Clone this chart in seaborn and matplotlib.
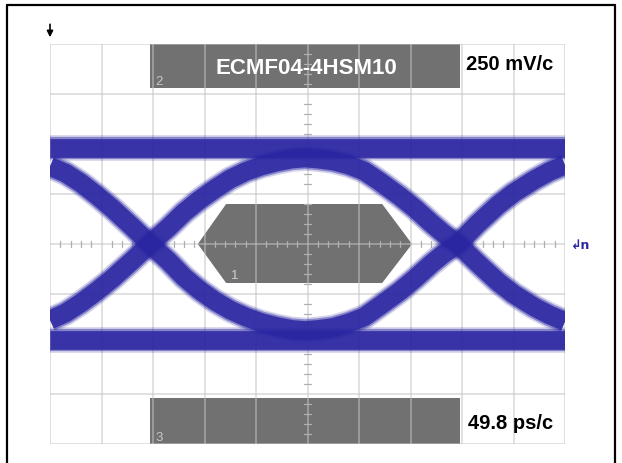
import matplotlib
matplotlib.use("Agg")
import matplotlib.pyplot as plt
from matplotlib.lines import Line2D
from matplotlib.patches import Polygon, Rectangle
import pandas as pd
import seaborn as sns

# ---- data (divisions: x = 49.8 ps/div, y = 250 mV/div) ----
time_div = [0.0, 0.3, 0.6, 0.9, 1.2, 1.6, 1.94, 2.3, 2.6, 2.9, 3.2, 3.5, 3.8, 4.1,
            4.4, 4.7, 4.95, 5.2, 5.5, 5.8, 6.1, 6.4, 6.8, 7.1, 7.4, 7.65, 7.92,
            8.3, 8.7, 9.0, 9.4, 9.7, 10.0]
# trace rising at first crossing, falling at second
arch_up = [-1.52, -1.38, -1.18, -0.95, -0.70, -0.33, 0.0, 0.33, 0.63, 0.88, 1.10, 1.30,
           1.45, 1.56, 1.64, 1.70, 1.72, 1.70, 1.66, 1.58, 1.46, 1.25, 0.95, 0.70,
           0.42, 0.20, 0.0, -0.38, -0.76, -1.00, -1.26, -1.42, -1.55]
# trace falling at first crossing, rising at second
arch_down = [1.55, 1.42, 1.22, 0.98, 0.72, 0.34, 0.0, -0.34, -0.66, -0.92, -1.14, -1.32,
             -1.46, -1.57, -1.65, -1.71, -1.73, -1.71, -1.67, -1.58, -1.46, -1.24, -0.94,
             -0.68, -0.40, -0.19, 0.0, 0.40, 0.78, 1.02, 1.28, 1.45, 1.58]
level_time = [0.0, 10.0]
level_high = [1.92, 1.92]
level_low = [-1.92, -1.92]

mask_x = [2.87, 3.42, 6.45, 7.03, 6.45, 3.42]
mask_y = [0.0, 0.80, 0.80, 0.0, -0.78, -0.78]

title_text = "ECMF04-4HSM10"
volt_scale = "250 mV/c"
time_scale = "49.8 ps/c"

# ---- build long table ----
rows = []
for name, xs, ys in [("up", time_div, arch_up), ("down", time_div, arch_down),
                     ("high", level_time, level_high), ("low", level_time, level_low)]:
    for i, (x, y) in enumerate(zip(xs, ys)):
        rows.append({"trace": name, "t": x, "v": y, "order": i})
df = pd.DataFrame(rows)

sns.set_style("white")
plt.rcParams['font.family'] = ['Liberation Sans', 'DejaVu Sans']

W, H = 622, 464
fig = plt.figure(figsize=(W / 100, H / 100), dpi=100)
fig.patch.set_facecolor("white")
ax = fig.add_axes([50 / W, 19 / H, 515 / W, 400 / H])
ax.set_xlim(0, 10)
ax.set_ylim(-4, 4)
for s in ax.spines.values():
    s.set_visible(False)
ax.set_xticks([])
ax.set_yticks([])

box_gray = "#717171"
ax.add_patch(Rectangle((1.95, 3.12), 7.96 - 1.95, 0.88, facecolor=box_gray, edgecolor="none", zorder=1))
ax.add_patch(Rectangle((1.95, -4.0), 7.96 - 1.95, 0.92, facecolor=box_gray, edgecolor="none", zorder=1))
ax.add_patch(Polygon(list(zip(mask_x, mask_y)), closed=True, facecolor=box_gray, edgecolor="none", zorder=1))

# grid
for gx in range(0, 11):
    ax.axvline(gx, color="#c4c4c4", lw=1.1, alpha=0.65, zorder=2)
for gy in range(-4, 5):
    ax.axhline(gy, color="#c4c4c4", lw=1.1, alpha=0.65, zorder=2)
# center ticks
tk = [i * 0.2 for i in range(0, 51)]
for t in tk:
    if abs(t - round(t)) > 1e-6:
        ax.plot([t, t], [-0.06, 0.06], color="#b0b0b0", lw=0.9, zorder=2)
tky = [-4 + i * 0.2 for i in range(0, 41)]
for t in tky:
    if abs(t - round(t)) > 1e-6:
        ax.plot([4.94, 5.06], [t, t], color="#b0b0b0", lw=0.9, zorder=2)

# traces
trace_col = "#2a26a2"
for lw, a, z in [(18.5, 0.2, 3), (16.0, 0.45, 4), (13.5, 0.85, 5)]:
    sns.lineplot(data=df, x="t", y="v", units="trace", estimator=None, sort=False,
                 color=trace_col, lw=lw, alpha=a, ax=ax, legend=False, zorder=z,
                 solid_joinstyle="round", solid_capstyle="butt")
ax.set_xlim(0, 10)
ax.set_ylim(-4, 4)
ax.set_xlabel("")
ax.set_ylabel("")

# texts
ax.text(4.97, 3.54, title_text, color="white", fontsize=16, fontweight="bold",
        ha="center", va="center", zorder=6)
ax.text(8.08, 3.62, volt_scale, color="black", fontsize=14.5, fontweight="bold",
        ha="left", va="center", zorder=6)
ax.text(8.12, -3.58, time_scale, color="black", fontsize=14.5, fontweight="bold",
        ha="left", va="center", zorder=6)
ax.text(2.04, 3.14, "2", color="#c8c8c8", fontsize=9.5, ha="left", va="bottom", zorder=6)
ax.text(2.04, -3.98, "3", color="#c8c8c8", fontsize=9.5, ha="left", va="bottom", zorder=6)
ax.text(3.52, -0.74, "1", color="#d0d0d0", fontsize=9.5, ha="left", va="bottom", zorder=6)

# markers
ax.annotate("", xy=(0.0, 4.08), xytext=(0.0, 4.45), annotation_clip=False,
            arrowprops=dict(arrowstyle="-|>", color="black", lw=1.2, mutation_scale=9))
ax.text(10.12, 0.0, "↲n", color="#2a26a2", fontsize=9, ha="left", va="center",
        clip_on=False, zorder=6, fontweight="bold", family=["DejaVu Sans"])

# outer frame
fig.add_artist(Line2D([7.5 / W, 7.5 / W], [0, 1 - 6 / H], transform=fig.transFigure, color="black", lw=1.6))
fig.add_artist(Line2D([615 / W, 615 / W], [0, 1 - 6 / H], transform=fig.transFigure, color="black", lw=1.6))
fig.add_artist(Line2D([7.5 / W, 615 / W], [1 - 6 / H, 1 - 6 / H], transform=fig.transFigure, color="black", lw=1.6))

fig.savefig("out.png", dpi=100, facecolor="white")
